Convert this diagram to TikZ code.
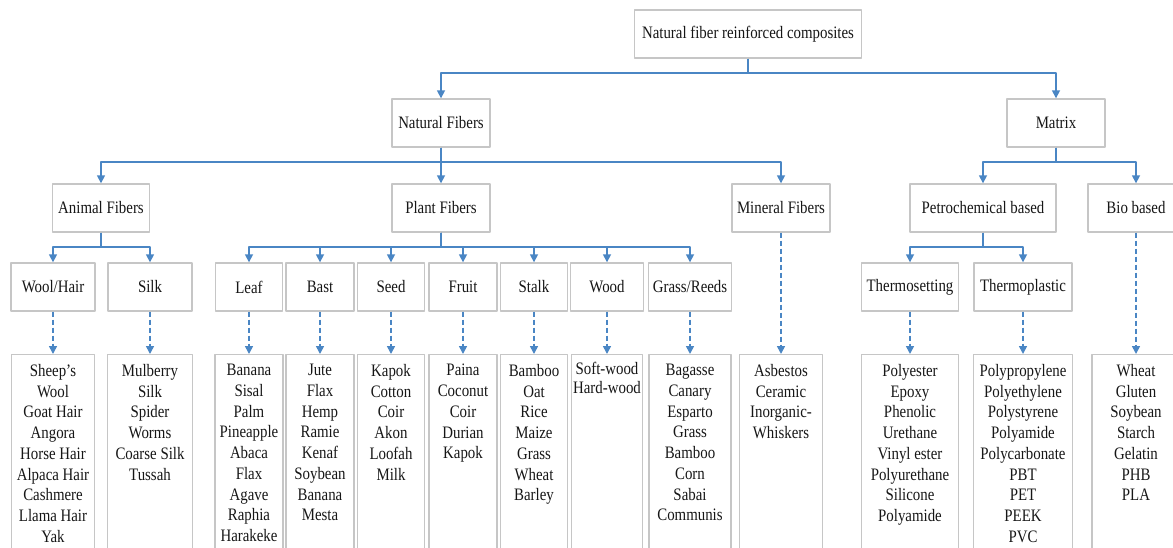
\documentclass[tikz,border=0pt]{standalone}
\usepackage{fontspec}
\setmainfont{Liberation Serif}[FakeStretch=0.85]
\usetikzlibrary{arrows.meta}
\definecolor{bleu}{HTML}{4A86C4}
\definecolor{gris}{HTML}{C6C6C6}
\definecolor{encre}{HTML}{161616}
\tikzset{
  boite/.style={draw=gris, line width=1.4pt, fill=white, minimum height=48pt, inner sep=0pt,
    font=\fontsize{17.5}{20.7}\selectfont, text=encre},
  liste/.style={draw=gris, line width=1.4pt, anchor=north, minimum height=215pt, inner sep=0pt},
  texte/.style={anchor=north, align=center, inner sep=0pt,
    font=\fontsize{17.5}{20.75}\selectfont, text=encre},
  fleche/.style={draw=bleu, line width=1.6pt, -{Triangle[width=8pt,length=8pt]}},
  pointille/.style={fleche, dash pattern=on 5pt off 3pt},
}
\begin{document}
\begin{tikzpicture}[x=1pt, y=-1pt, line join=round]
  \useasboundingbox (0,0) rectangle (1173,547);

  % Racine
  \node[boite, minimum width=227pt] (nfrc) at (748,34) {Natural fiber reinforced composites};

  % Niveau 1
  \node[boite, minimum width=98pt] (fibres) at (441,123) {Natural Fibers};
  \node[boite, minimum width=98pt] (matrice) at (1056,123) {Matrix};

  % Niveau 2
  \node[boite, minimum width=97pt] (animal) at (101,208) {Animal Fibers};
  \node[boite, minimum width=98pt] (vegetal) at (441,208) {Plant Fibers};
  \node[boite, minimum width=98pt] (mineral) at (781,208) {Mineral Fibers};
  \node[boite, minimum width=146pt] (petro) at (983,208) {Petrochemical based};
  \node[boite, minimum width=96pt] (bio) at (1136,208) {Bio based};

  % Niveau 3
  \node[boite, minimum width=84pt] (laine) at (53,287) {Wool/Hair};
  \node[boite, minimum width=84pt] (soie) at (150,287) {Silk};
  \node[boite, minimum width=67pt] (feuille) at (249,287) {Leaf};
  \node[boite, minimum width=68pt] (liber) at (320,287) {Bast};
  \node[boite, minimum width=67pt] (graine) at (391,287) {Seed};
  \node[boite, minimum width=68pt] (fruit) at (463,287) {Fruit};
  \node[boite, minimum width=67pt] (tige) at (534,287) {Stalk};
  \node[boite, minimum width=73pt] (bois) at (607,287) {Wood};
  \node[boite, minimum width=83pt] (herbe) at (690,287) {Grass/Reeds};
  \node[boite, minimum width=97pt] (thdur) at (910,287) {Thermosetting};
  \node[boite, minimum width=98pt] (thpla) at (1023,287) {Thermoplastic};

  % Listes (cadres)
  \node[liste, minimum width=83pt] (llaine) at (53,354) {};
  \node[liste, minimum width=85pt] (lsoie) at (150,354) {};
  \node[liste, minimum width=68pt] (lfeuille) at (249,354) {};
  \node[liste, minimum width=68pt] (lliber) at (320,354) {};
  \node[liste, minimum width=67pt] (lgraine) at (391,354) {};
  \node[liste, minimum width=68pt] (lfruit) at (463,354) {};
  \node[liste, minimum width=67pt] (ltige) at (534,354) {};
  \node[liste, minimum width=71pt] (lbois) at (607,354) {};
  \node[liste, minimum width=82pt] (lherbe) at (690,354) {};
  \node[liste, minimum width=83pt] (lmineral) at (781,354) {};
  \node[liste, minimum width=97pt] (lthdur) at (910,354) {};
  \node[liste, minimum width=99pt] (lthpla) at (1023,354) {};
  \node[liste, minimum width=88pt] (lbio) at (1136,354) {};

  % Listes (textes)
  \node[texte] (tlaine) at ([yshift=-10pt]llaine.north) {Sheep’s\\Wool\\Goat Hair\\Angora\\Horse Hair\\Alpaca Hair\\Cashmere\\Llama Hair\\Yak};
  \node[texte] (tsoie) at ([yshift=-10pt]lsoie.north) {Mulberry\\Silk\\Spider\\Worms\\Coarse Silk\\Tussah};
  \node[texte] (tfeuille) at ([yshift=-10pt]lfeuille.north) {Banana\\Sisal\\Palm\\Pineapple\\Abaca\\Flax\\Agave\\Raphia\\Harakeke};
  \node[texte] (tliber) at ([yshift=-10pt]lliber.north) {Jute\\Flax\\Hemp\\Ramie\\Kenaf\\Soybean\\Banana\\Mesta};
  \node[texte] (tgraine) at ([yshift=-10pt]lgraine.north) {Kapok\\Cotton\\Coir\\Akon\\Loofah\\Milk};
  \node[texte] (tfruit) at ([yshift=-10pt]lfruit.north) {Paina\\Coconut\\Coir\\Durian\\Kapok};
  \node[texte] (ttige) at ([yshift=-10pt]ltige.north) {Bamboo\\Oat\\Rice\\Maize\\Grass\\Wheat\\Barley};
  \node[texte, font=\fontsize{17.5}{19}\selectfont] (tbois) at ([yshift=-8pt]lbois.north) {Soft-wood\\Hard-wood};
  \node[texte] (therbe) at ([yshift=-10pt]lherbe.north) {Bagasse\\Canary\\Esparto\\Grass\\Bamboo\\Corn\\Sabai\\Communis};
  \node[texte] (tmineral) at ([yshift=-10pt]lmineral.north) {Asbestos\\Ceramic\\Inorganic-\\Whiskers};
  \node[texte] (tthdur) at ([yshift=-10pt]lthdur.north) {Polyester\\Epoxy\\Phenolic\\Urethane\\Vinyl ester\\Polyurethane\\Silicone\\Polyamide};
  \node[texte] (tthpla) at ([yshift=-10pt]lthpla.north) {Polypropylene\\Polyethylene\\Polystyrene\\Polyamide\\Polycarbonate\\PBT\\PET\\PEEK\\PVC};
  \node[texte] (tbio) at ([yshift=-10pt]lbio.north) {Wheat\\Gluten\\Soybean\\Starch\\Gelatin\\PHB\\PLA};

  % Liaisons racine -> niveau 1
  \draw[fleche] (nfrc.south) -- ++(0,14) -| (fibres.north);
  \draw[fleche] (nfrc.south) -- ++(0,14) -| (matrice.north);

  % Liaisons niveau 1 -> niveau 2
  \draw[fleche] (fibres.south) -- ++(0,14) -| (animal.north);
  \draw[fleche] (fibres.south) -- (vegetal.north);
  \draw[fleche] (fibres.south) -- ++(0,14) -| (mineral.north);
  \draw[fleche] (matrice.south) -- ++(0,14) -| (petro.north);
  \draw[fleche] (matrice.south) -- ++(0,14) -| (bio.north);

  % Liaisons niveau 2 -> niveau 3
  \draw[fleche] (animal.south) -- ++(0,14) -| (laine.north);
  \draw[fleche] (animal.south) -- ++(0,14) -| (soie.north);
  \draw[fleche] (vegetal.south) -- ++(0,14) -| (feuille.north);
  \draw[fleche] (vegetal.south) -- ++(0,14) -| (liber.north);
  \draw[fleche] (vegetal.south) -- ++(0,14) -| (graine.north);
  \draw[fleche] (vegetal.south) -- ++(0,14) -| (fruit.north);
  \draw[fleche] (vegetal.south) -- ++(0,14) -| (tige.north);
  \draw[fleche] (vegetal.south) -- ++(0,14) -| (bois.north);
  \draw[fleche] (vegetal.south) -- ++(0,14) -| (herbe.north);
  \draw[fleche] (petro.south) -- ++(0,14) -| (thdur.north);
  \draw[fleche] (petro.south) -- ++(0,14) -| (thpla.north);

  % Liaisons en pointillés vers les listes
  \draw[pointille] (laine.south) -- (llaine.north);
  \draw[pointille] (soie.south) -- (lsoie.north);
  \draw[pointille] (feuille.south) -- (lfeuille.north);
  \draw[pointille] (liber.south) -- (lliber.north);
  \draw[pointille] (graine.south) -- (lgraine.north);
  \draw[pointille] (fruit.south) -- (lfruit.north);
  \draw[pointille] (tige.south) -- (ltige.north);
  \draw[pointille] (bois.south) -- (lbois.north);
  \draw[pointille] (herbe.south) -- (lherbe.north);
  \draw[pointille] (mineral.south) -- (lmineral.north);
  \draw[pointille] (thdur.south) -- (lthdur.north);
  \draw[pointille] (thpla.south) -- (lthpla.north);
  \draw[pointille] (bio.south) -- (lbio.north);
\end{tikzpicture}
\end{document}
